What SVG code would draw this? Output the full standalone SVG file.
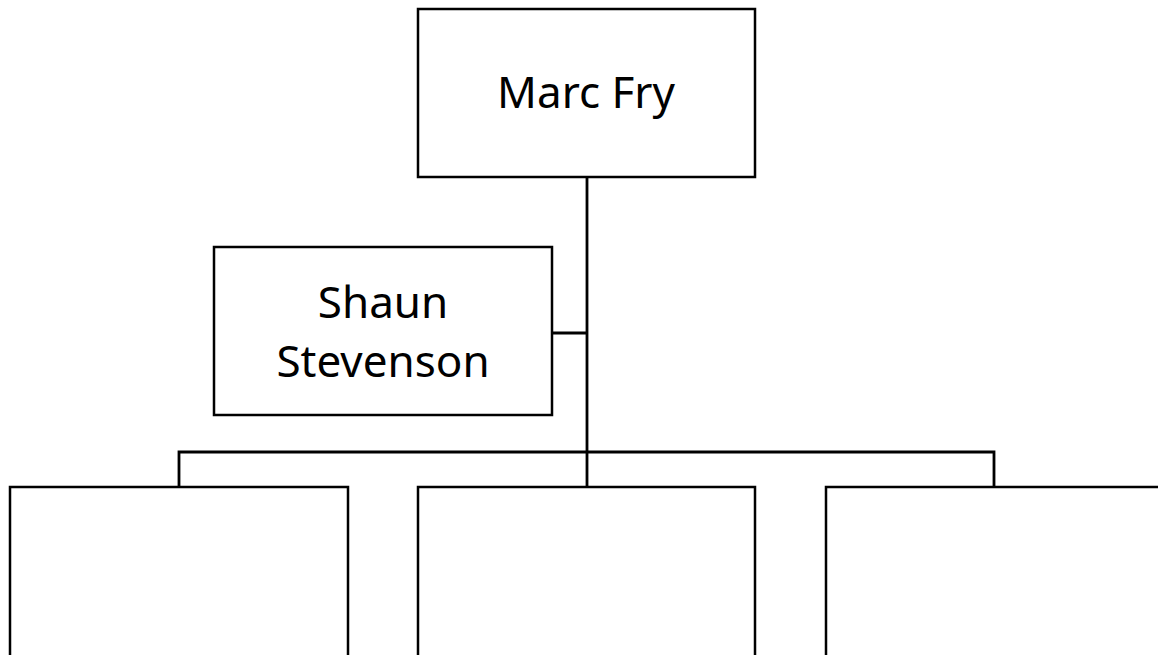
<svg xmlns="http://www.w3.org/2000/svg" width="1158" height="655" viewBox="0 0 1158 655">
<style>
.box{fill:#fff;stroke:#000;stroke-width:2.5}
.ln{fill:none;stroke:#000;stroke-width:2.8}
.t{font-family:"Noto Sans","Open Sans",sans-serif;font-size:44px;fill:#000;text-anchor:middle}
</style>
<rect width="1158" height="655" fill="#fff"/>
<g id="connectors">
<line class="ln" x1="587" y1="177" x2="587" y2="487"/>
<line class="ln" x1="552" y1="333" x2="587" y2="333"/>
<polyline class="ln" points="179,487 179,452 994,452 994,487"/>
</g>
<g id="marc"><rect class="box" x="418" y="9" width="337" height="168"/><text class="t" x="586" y="108">Marc Fry</text></g>
<g id="shaun"><rect class="box" x="214" y="247" width="338" height="168"/><text class="t" x="383" y="318">Shaun</text><text class="t" x="383" y="377">Stevenson</text></g>
<g id="child1"><rect class="box" x="10" y="487" width="338" height="180"/></g>
<g id="child2"><rect class="box" x="418" y="487" width="337" height="180"/></g>
<g id="child3"><rect class="box" x="826" y="487" width="338" height="180"/></g>
</svg>
